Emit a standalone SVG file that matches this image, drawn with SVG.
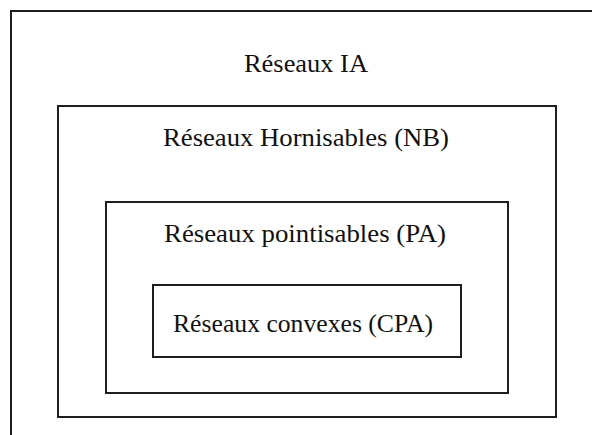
<svg xmlns="http://www.w3.org/2000/svg" width="592" height="435" viewBox="0 0 592 435">
<style>
.box{fill:none;stroke:#1e1e1e;stroke-width:2}
.lbl{font-family:"Liberation Serif","Times New Roman",serif;font-size:26px;fill:#111;text-anchor:middle}
</style>
<rect width="592" height="435" fill="#fff"/>
<g id="ia">
<rect class="box" x="11" y="11" width="600" height="450"/>
<text class="lbl" x="306" y="72" textLength="124" lengthAdjust="spacingAndGlyphs">Réseaux IA</text>
</g>
<g id="nb">
<rect class="box" x="58" y="106" width="498" height="311"/>
<text class="lbl" x="306" y="146" textLength="286" lengthAdjust="spacingAndGlyphs">Réseaux Hornisables (NB)</text>
</g>
<g id="pa">
<rect class="box" x="106" y="202" width="402" height="191"/>
<text class="lbl" x="305" y="242" textLength="282" lengthAdjust="spacingAndGlyphs">Réseaux pointisables (PA)</text>
</g>
<g id="cpa">
<rect class="box" x="153" y="285" width="308" height="72"/>
<text class="lbl" x="303" y="332" textLength="260" lengthAdjust="spacingAndGlyphs">Réseaux convexes (CPA)</text>
</g>
<g id="connectors"/>
</svg>
